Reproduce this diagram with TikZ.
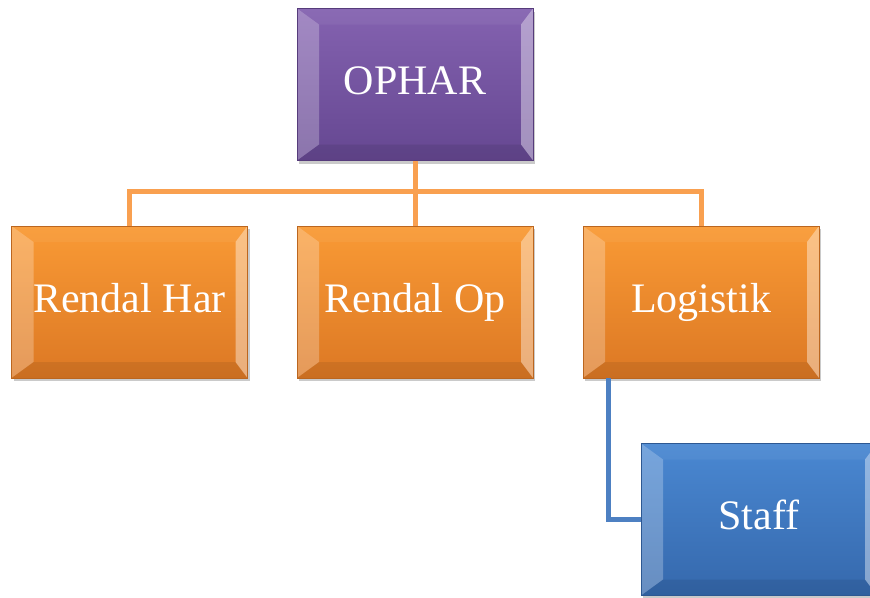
\documentclass[tikz,border=0pt]{standalone}
\usepackage{fontspec}
\setmainfont{Liberation Serif}
\usetikzlibrary{shadows}
\definecolor{orgtop}{HTML}{F99A35}
\definecolor{orgbot}{HTML}{DC7824}
\definecolor{purtop}{HTML}{8462B0}
\definecolor{purbot}{HTML}{654791}
\definecolor{blutop}{HTML}{4A88D2}
\definecolor{blubot}{HTML}{3568AC}
\definecolor{orgline}{HTML}{F9A050}
\definecolor{bluline}{HTML}{4D80C2}
\tikzset{
  bevelbox/.style 2 args={
    rectangle, minimum width=236pt, minimum height=152pt, inner sep=0pt,
    text height=29pt, text depth=9pt,
    top color=#1, bottom color=#2, draw=#2!85!black, line width=0.6pt,
    drop shadow={shadow xshift=2pt, shadow yshift=-3pt, opacity=0.35, fill=black!60},
    text=white, font=\fontsize{42}{50}\selectfont,
    path picture={
      \fill[white,opacity=0.25]
        (path picture bounding box.north west) -- (path picture bounding box.south west)
        -- ([xshift=22pt,yshift=16pt]path picture bounding box.south west)
        -- ([xshift=22pt,yshift=-16pt]path picture bounding box.north west) -- cycle;
      \fill[white,opacity=0.40]
        (path picture bounding box.north east) -- (path picture bounding box.south east)
        -- ([xshift=-12pt,yshift=16pt]path picture bounding box.south east)
        -- ([xshift=-12pt,yshift=-16pt]path picture bounding box.north east) -- cycle;
      \fill[white,opacity=0.05]
        (path picture bounding box.north west) -- (path picture bounding box.north east)
        -- ([xshift=-12pt,yshift=-16pt]path picture bounding box.north east)
        -- ([xshift=22pt,yshift=-16pt]path picture bounding box.north west) -- cycle;
      \fill[black,opacity=0.08]
        (path picture bounding box.south west) -- (path picture bounding box.south east)
        -- ([xshift=-12pt,yshift=16pt]path picture bounding box.south east)
        -- ([xshift=22pt,yshift=16pt]path picture bounding box.south west) -- cycle;
    }
  },
  orgbox/.style={bevelbox={orgtop}{orgbot}},
  purbox/.style={bevelbox={purtop}{purbot}},
  blubox/.style={bevelbox={blutop}{blubot}},
  orgconn/.style={draw=orgline, line width=5pt},
  bluconn/.style={draw=bluline, line width=5pt},
}
\begin{document}
\begin{tikzpicture}[x=1pt,y=-1pt]
\useasboundingbox (0,0) rectangle (870,597);
\clip (0,0) rectangle (870,597);
\coordinate (bus) at (415,191);
\coordinate (bend) at (608,520);
\node[orgbox] (rh) at (129.5,302) {Rendal Har};
\node[orgbox] (ro) at (415,302) {Rendal Op};
\node[orgbox] (lg) at (701,302) {Logistik};
\node[blubox] (st) at (759,519.5) {Staff};
\node[purbox] (ophar) at (415,84.5) {OPHAR};
\path[orgconn] (ophar.south) -- (bus);
\path[orgconn] (bus) -| (rh.north);
\path[orgconn] (bus) -| (lg.north);
\path[orgconn] (bus) -- (ro.north);
\path[bluconn] (lg.south -| bend) |- (st.west);
\end{tikzpicture}
\end{document}
